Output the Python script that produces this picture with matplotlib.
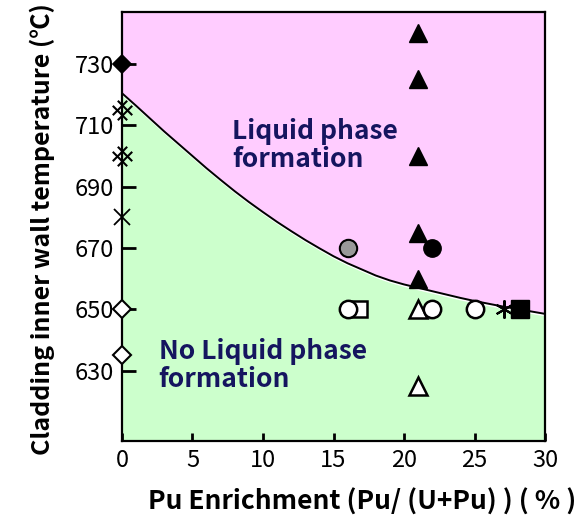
import matplotlib
matplotlib.use("Agg")
import matplotlib.pyplot as plt
import matplotlib.patheffects as pe
from matplotlib.path import Path
from matplotlib.transforms import Affine2D

plt.rcParams['font.family'] = ['Noto Sans CJK JP', 'DejaVu Sans']

# Boundary between liquid-phase and no-liquid-phase regions
curve_x = list(range(0, 31))
curve_y = [720.5, 716.4, 712.2, 708.0, 704.0, 700.0, 696.0, 692.2, 688.5, 685.0,
           681.7, 678.5, 675.5, 672.6, 669.9, 667.3, 665.0, 663.0, 661.0, 659.4,
           658.1, 657.0, 655.9, 654.8, 653.7, 652.7, 651.8, 650.9, 650.1, 649.3,
           648.5]

# Experimental points, grouped by symbol
black_diamond_x, black_diamond_y = [0], [730]
hatch_x, hatch_y = [0, 0], [715, 700]
cross_x, cross_y = [0], [680]
open_diamond_x, open_diamond_y = [0, 0], [650, 635]
black_tri_x = [21, 21, 21, 21, 21]
black_tri_y = [740, 725, 700, 675, 660]
grey_circle_x, grey_circle_y = [16], [670]
black_circle_x, black_circle_y = [22], [670]
open_square_x, open_square_y = [16.8], [650]
open_circle_x, open_circle_y = [16, 22, 25], [650, 650, 650]
open_tri_x, open_tri_y = [21, 21], [650, 625]
star_x, star_y = [27.1], [650]
black_square_x, black_square_y = [28.2], [650]

x_ticks = [0, 5, 10, 15, 20, 25, 30]
y_ticks = [630, 650, 670, 690, 710, 730]
x_lim = (0, 30)
y_lim = (607, 747)

fig = plt.figure(figsize=(5.79, 5.18), dpi=100)
ax = fig.add_axes([0.2107, 0.1486, 0.7306, 0.8282])
ax.set_xlim(*x_lim)
ax.set_ylim(*y_lim)

pink = '#FFCCFF'
green = '#CCFFCC'
ax.fill_between(curve_x, curve_y, y_lim[1], color=pink, lw=0, zorder=0)
ax.fill_between(curve_x, y_lim[0], curve_y, color=green, lw=0, zorder=0)
ax.plot(curve_x, curve_y, color='black', lw=1.4, zorder=2,
        path_effects=[pe.SimpleLineShadow(offset=(0.6, -1.2), shadow_color='white', alpha=1.0),
                      pe.Normal()])

# Rotated hash marker
hash_verts = [(-0.35, -1), (-0.35, 1), (0.35, -1), (0.35, 1),
              (-1, -0.35), (1, -0.35), (-1, 0.35), (1, 0.35)]
hash_codes = [Path.MOVETO, Path.LINETO] * 4
hash_path = Path(hash_verts, hash_codes).transformed(Affine2D().rotate_deg(45))

common = dict(linestyle='none', clip_on=False, zorder=5, markeredgecolor='black')
ax.plot(black_diamond_x, black_diamond_y, marker='D', ms=9.5, mfc='black', mew=1.2, **common)
ax.plot(hatch_x, hatch_y, marker=hash_path, ms=14, mfc='none', mew=1.5, **common)
ax.plot(cross_x, cross_y, marker='x', ms=11, mew=1.3, **common)
ax.plot(open_diamond_x, open_diamond_y, marker='D', ms=9.5, mfc='white', mew=1.5, **common)
ax.plot(black_tri_x, black_tri_y, marker='^', ms=13.5, mfc='black', mew=1, **common)
ax.plot(grey_circle_x, grey_circle_y, marker='o', ms=12.5, mfc='#999999', mew=1.5, **common)
ax.plot(black_circle_x, black_circle_y, marker='o', ms=12.5, mfc='black', mew=1, **common)
ax.plot(open_square_x, open_square_y, marker='s', ms=12, mfc='white', mew=1.8, **common)
ax.plot(open_tri_x, open_tri_y, marker='^', ms=13.5, mfc='white', mew=1.8, **common)
ax.plot(open_circle_x, open_circle_y, marker='o', ms=12.5, mfc='white', mew=1.8, **common)
ax.plot(star_x, star_y, marker=(6, 2, 0), ms=13, mew=1.5, **common)
ax.plot(black_square_x, black_square_y, marker='s', ms=13, mfc='black', mew=1, **common)

navy = '#15155F'
ax.text(7.8, 712.5, 'Liquid phase\nformation', color=navy, fontsize=19,
        fontweight='bold', va='top', ha='left', linespacing=1.05, zorder=3)
ax.text(2.6, 640.5, 'No Liquid phase\nformation', color=navy, fontsize=19,
        fontweight='bold', va='top', ha='left', linespacing=1.05, zorder=3)

ax.set_xticks(x_ticks)
ax.set_yticks(y_ticks)
ax.tick_params(direction='in', width=2, labelsize=17, colors='black')
ax.tick_params(axis='x', length=6, pad=6)
ax.tick_params(axis='y', length=10, pad=6)
for s in ax.spines.values():
    s.set_linewidth(1.6)
    s.set_zorder(4)

ax.set_xlabel('Pu Enrichment (Pu/ (U+Pu) ) ( % )', fontsize=19, fontweight='bold')
ax.xaxis.set_label_coords(0.567, -0.11)
ax.set_ylabel('Cladding inner wall temperature (℃)', fontsize=18, fontweight='bold')
ax.yaxis.set_label_coords(-0.158, 0.495)

fig.savefig('out.png', dpi=100)
